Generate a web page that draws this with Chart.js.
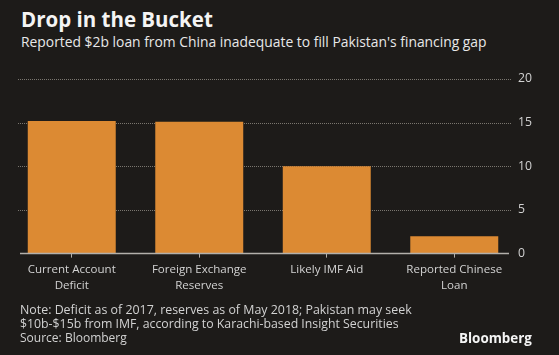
<!DOCTYPE html>
<html>
<head>
<meta charset="utf-8">
<script src="https://cdn.jsdelivr.net/npm/chart.js@4/dist/chart.umd.min.js"></script>
<style>
  html, body { margin: 0; padding: 0; }
  body { width: 559px; height: 355px; background: #1d1b19; overflow: hidden; position: relative; font-family: "Open Sans", sans-serif; }
  .t { position: absolute; white-space: nowrap; line-height: 1; margin: 0; }
  #title { color: #f4f4f4; font-weight: 700; font-size: 19px; }
  #subtitle { color: #e8e8e8; font-size: 14px; }
  .foot { color: #d2d2d2; font-size: 13px; }
  #brand { color: #f4f4f4; font-weight: 700; font-size: 14px; }
  #c { position: absolute; left: 0; top: 0; }
</style>
</head>
<body>
<div id="title" class="t">Drop in the Bucket</div>
<div id="subtitle" class="t">Reported $2b loan from China inadequate to fill Pakistan's financing gap</div>
<canvas id="c" width="559" height="355"></canvas>
<div id="note1" class="t foot">Note: Deficit as of 2017, reserves as of May 2018; Pakistan may seek</div>
<div id="note2" class="t foot">$10b-$15b from IMF, according to Karachi-based Insight Securities</div>
<div id="note3" class="t foot">Source: Bloomberg</div>
<div id="brand" class="t">Bloomberg</div>
<script>
// ---- data ----
const categories = [
  ["Current Account", "Deficit"],
  ["Foreign Exchange", "Reserves"],
  ["Likely IMF Aid"],
  ["Reported Chinese", "Loan"]
];
const values = [15.2, 15.1, 10, 2];
const yTicks = [0, 5, 10, 15, 20];

// ---- text placement helpers ----
function place(id, x, baseline, targetW) {
  const el = document.getElementById(id);
  const fs0 = parseFloat(getComputedStyle(el).fontSize);
  const w = el.getBoundingClientRect().width;
  const fs = fs0 * targetW / w;
  el.style.fontSize = fs + 'px';
  el.style.left = x + 'px';
  el.style.top = (baseline - 0.888 * fs) + 'px';
}
place('title', 21, 27, 192);
place('subtitle', 21, 47, 466);
place('note1', 20, 315, 392);
place('note2', 20, 329, 379);
place('note3', 20, 343, 107);
place('brand', 459, 344, 73);

const mctx = document.createElement('canvas').getContext('2d');
function fitSize(text, target, weight) {
  mctx.font = (weight || '') + ' 20px "Open Sans"';
  return 20 * target / mctx.measureText(text).width;
}
const xFont = fitSize('Reported Chinese', 96);
const yFont = fitSize('20', 14);

const gridPlugin = {
  id: 'bbgrid',
  beforeDatasetsDraw(chart) {
    const ctx = chart.ctx;
    const y = chart.scales.y;
    ctx.save();
    yTicks.forEach(v => {
      const py = Math.round(y.getPixelForValue(v)) + 0.5;
      if (v === 0) return;
      ctx.strokeStyle = '#7a766f';
      ctx.lineWidth = 1;
      ctx.setLineDash([1, 1]);
      ctx.beginPath();
      ctx.moveTo(18, py);
      ctx.lineTo(512, py);
      ctx.stroke();
    });
    ctx.restore();
  },
  afterDatasetsDraw(chart) {
    const ctx = chart.ctx;
    const y = chart.scales.y;
    const py = y.getPixelForValue(0);
    ctx.save();
    ctx.strokeStyle = '#b3b0ab';
    ctx.lineWidth = 1.5;
    ctx.beginPath();
    ctx.moveTo(20, py);
    ctx.lineTo(509, py);
    ctx.stroke();
    ctx.restore();
  }
};

new Chart(document.getElementById('c'), {
  type: 'bar',
  data: {
    labels: categories,
    datasets: [{
      data: values,
      backgroundColor: '#dc8a33',
      borderWidth: 0,
      categoryPercentage: 1,
      barPercentage: 0.69
    }]
  },
  options: {
    responsive: false,
    animation: false,
    devicePixelRatio: 1,
    layout: { padding: { left: 8, top: 79, right: 27, bottom: 57 } },
    plugins: { legend: { display: false }, tooltip: { enabled: false } },
    scales: {
      x: {
        border: { display: false },
        grid: { display: true, drawOnChartArea: false, drawTicks: true, tickLength: 4, offset: false, color: '#b3b0ab', lineWidth: 1 },
        ticks: { color: '#d2d2d2', padding: 4, maxRotation: 0, autoSkip: false, font: { family: '"Open Sans"', size: xFont, lineHeight: 1.4 } }
      },
      y: {
        position: 'right',
        min: 0, max: 20,
        border: { display: false },
        grid: { display: false, drawTicks: false },
        afterBuildTicks(scale) { scale.ticks = yTicks.map(v => ({ value: v })); },
        ticks: { color: '#d2d2d2', padding: 0, font: { family: '"Open Sans"', size: yFont } }
      }
    }
  },
  plugins: [gridPlugin]
});
</script>
</body>
</html>
